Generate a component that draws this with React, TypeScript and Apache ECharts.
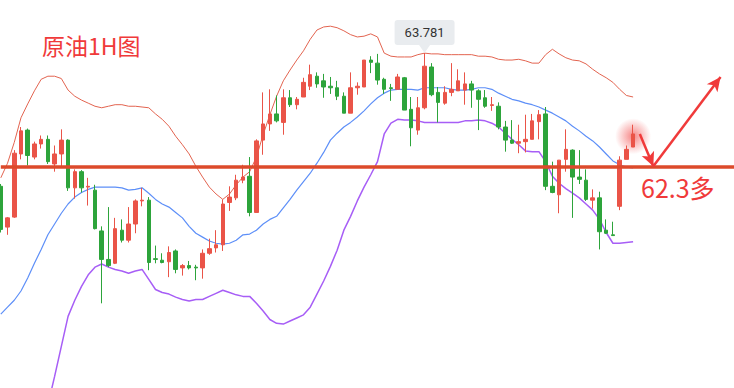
import React, { useEffect, useRef } from 'react';
import * as echarts from 'echarts';

// ---- data ----
const slotCount = 110;
const categories: string[] = Array.from({ length: slotCount }, (_, i) => 'H' + (i + 1));

// [open, close, low, high]
const ohlc: number[][] = [
  [62.05, 61.49, 61.45, 62.08], [61.52, 61.64, 61.42, 61.65], [61.65, 62.48, 61.64, 62.52], [62.47, 62.77, 62.40, 62.82],
  [62.78, 62.45, 62.32, 62.80], [62.43, 62.60, 62.40, 62.63], [62.60, 62.66, 62.54, 62.71], [62.66, 62.37, 62.34, 62.71],
  [62.34, 62.47, 62.24, 62.58], [62.47, 62.65, 62.30, 62.79], [62.65, 62.03, 61.99, 62.66], [62.03, 62.24, 61.89, 62.27],
  [62.24, 62.03, 61.97, 62.26], [62.04, 62.05, 61.80, 62.16], [62.00, 61.50, 61.49, 62.07], [61.47, 61.10, 60.53, 61.53],
  [61.10, 61.02, 61.00, 61.78], [61.05, 61.50, 61.04, 61.64], [61.48, 61.35, 61.32, 61.62], [61.35, 61.56, 61.32, 61.78],
  [61.56, 61.86, 61.44, 61.88], [61.86, 61.87, 61.79, 62.03], [61.87, 61.06, 60.96, 61.91], [61.11, 61.10, 61.05, 61.28],
  [61.09, 61.06, 61.05, 61.18], [61.07, 61.19, 60.87, 61.27], [61.21, 60.97, 60.92, 61.23], [60.99, 61.02, 60.89, 61.04],
  [61.02, 60.99, 60.97, 61.08], [61.00, 60.99, 60.83, 61.03], [60.99, 61.18, 60.85, 61.23], [61.18, 61.24, 61.16, 61.37],
  [61.25, 61.29, 61.19, 61.48], [61.29, 61.82, 61.21, 61.88], [61.84, 61.91, 61.73, 62.05], [61.90, 62.13, 61.87, 62.20],
  [62.13, 62.17, 62.09, 62.33], [62.18, 61.71, 61.66, 62.43], [61.71, 62.64, 61.71, 62.66], [62.65, 62.86, 62.46, 63.27],
  [62.86, 62.99, 62.77, 63.31], [62.99, 62.90, 62.88, 63.23], [62.88, 63.20, 62.72, 63.31], [63.20, 63.11, 63.08, 63.30],
  [63.11, 63.18, 63.05, 63.21], [63.21, 63.40, 63.21, 63.46], [63.35, 63.50, 63.30, 63.63], [63.48, 63.38, 63.33, 63.53],
  [63.42, 63.34, 63.20, 63.51], [63.35, 63.33, 63.25, 63.47], [63.33, 63.22, 63.17, 63.42], [63.22, 63.00, 63.00, 63.27],
  [63.00, 63.33, 63.00, 63.53], [63.33, 63.35, 63.24, 63.40], [63.34, 63.69, 63.34, 63.69], [63.69, 63.66, 63.52, 63.74],
  [63.65, 63.43, 63.37, 63.77], [63.44, 63.31, 63.25, 63.46], [63.33, 63.32, 63.16, 63.38], [63.31, 63.47, 63.31, 63.51],
  [63.46, 63.04, 63.04, 63.47], [63.05, 62.81, 62.57, 63.21], [62.78, 63.07, 62.72, 63.21], [63.07, 63.61, 63.05, 63.781],
  [63.60, 63.24, 63.22, 63.65], [63.27, 63.14, 62.88, 63.34], [63.13, 63.27, 63.11, 63.35], [63.27, 63.31, 63.22, 63.65],
  [63.29, 63.42, 63.29, 63.57], [63.30, 63.38, 63.11, 63.53], [63.38, 63.30, 63.07, 63.42], [63.29, 63.18, 62.78, 63.31],
  [63.20, 63.09, 63.07, 63.30], [63.10, 63.11, 63.03, 63.21], [63.09, 62.82, 62.79, 63.14], [62.82, 62.65, 62.50, 62.90],
  [62.65, 62.61, 62.60, 62.91], [62.61, 62.63, 62.48, 62.85], [62.63, 62.66, 62.49, 62.98], [62.66, 62.90, 62.66, 62.99],
  [62.89, 62.98, 62.66, 63.04], [62.99, 62.05, 62.00, 63.08], [62.05, 61.97, 61.96, 62.37], [61.94, 62.39, 61.70, 62.39],
  [62.40, 62.53, 62.24, 62.79], [62.52, 62.17, 61.64, 62.53], [62.17, 62.14, 62.08, 62.52], [62.13, 61.88, 61.86, 62.27],
  [61.87, 61.90, 61.76, 62.01], [61.90, 61.46, 61.23, 61.98], [61.48, 61.44, 61.43, 61.62], [61.42, 61.41, 61.41, 61.59],
  [61.79, 62.39, 61.74, 62.44], [62.40, 62.53, 62.40, 62.58], [62.56, 62.73, 62.56, 62.85],
];

const bollUpper: number[] = [
  62.16, 62.35, 62.62, 62.94, 63.12, 63.29, 63.44, 63.48, 63.48, 63.45,
  63.30, 63.22, 63.17, 63.13, 63.09, 63.07, 63.09, 63.11, 63.11, 63.09,
  63.09, 63.08, 63.07, 62.99, 62.92, 62.83, 62.70, 62.59, 62.47, 62.31,
  62.17, 62.04, 61.95, 61.88, 61.95, 62.07, 62.17, 62.24, 62.43, 62.72,
  62.98, 63.22, 63.42, 63.56, 63.69, 63.81, 63.96, 64.08, 64.12, 64.13,
  64.11, 64.07, 64.02, 63.99, 64.00, 64.03, 63.99, 63.78, 63.74, 63.73,
  63.73, 63.73, 63.76, 63.78, 63.77, 63.77, 63.76, 63.76, 63.76, 63.76,
  63.76, 63.74, 63.74, 63.73, 63.70, 63.69, 63.69, 63.70, 63.68, 63.65,
  63.65, 63.76, 63.83, 63.77, 63.72, 63.69, 63.68, 63.64, 63.57, 63.51,
  63.46, 63.40, 63.31, 63.23, 63.21,
];

const bollMid: number[] = [
  60.39, 60.48, 60.57, 60.69, 60.86, 61.05, 61.23, 61.42, 61.56, 61.70,
  61.82, 61.91, 61.97, 62.01, 62.04, 62.04, 62.04, 62.04, 62.03, 62.00,
  62.01, 62.03, 61.96, 61.88, 61.82, 61.78, 61.71, 61.64, 61.53, 61.44,
  61.39, 61.34, 61.31, 61.30, 61.31, 61.35, 61.42, 61.43, 61.48, 61.56,
  61.62, 61.66, 61.77, 61.88, 62.00, 62.11, 62.22, 62.35, 62.49, 62.65,
  62.74, 62.82, 62.88, 62.95, 63.03, 63.12, 63.20, 63.26, 63.30, 63.31,
  63.31, 63.31, 63.30, 63.33, 63.33, 63.33, 63.33, 63.31, 63.30, 63.30,
  63.31, 63.33, 63.33, 63.31, 63.26, 63.22, 63.18, 63.16, 63.13, 63.11,
  63.08, 63.04, 63.00, 62.95, 62.90, 62.83, 62.77, 62.70, 62.64, 62.56,
  62.47, 62.38, 62.33, 62.30, 62.29,
];

const bollLower: number[] = [
  58.63, 58.56, 58.52, 58.50, 58.63, 58.82, 59.04, 59.21, 59.58, 59.97,
  60.36, 60.57, 60.75, 60.90, 61.00, 61.04, 61.00, 60.97, 60.95, 60.92,
  60.95, 60.97, 60.84, 60.71, 60.67, 60.65, 60.61, 60.58, 60.56, 60.58,
  60.58, 60.62, 60.66, 60.70, 60.67, 60.64, 60.62, 60.62, 60.53, 60.43,
  60.32, 60.27, 60.26, 60.30, 60.34, 60.38, 60.48, 60.65, 60.82, 61.01,
  61.22, 61.48, 61.66, 61.86, 62.04, 62.20, 62.37, 62.73, 62.87, 62.92,
  62.91, 62.91, 62.90, 62.88, 62.88, 62.88, 62.88, 62.88, 62.88, 62.90,
  62.90, 62.91, 62.90, 62.87, 62.82, 62.74, 62.66, 62.59, 62.51, 62.50,
  62.50, 62.37, 62.18, 62.09, 62.02, 61.96, 61.90, 61.82, 61.74, 61.62,
  61.45, 61.31, 61.31, 61.32, 61.33,
];

const priceMin = 59.43;
const priceMax = 64.47;

const titleText = '原油1H图';
const highIndex = 63;
const highValue = 63.781;
const highLabel = '63.781';
const supportLevel = 62.3;
const supportText = '62.3多';
const glowPoint: [number, number] = [94.2, 62.7];
// arrow route in [slot index, price]
const arrowRoute: [number, number][] = [
  [94.7, 62.73],
  [97.32, 62.31],
  [107.44, 63.47],
];

const RED = '#ea5448';
const GREEN = '#2da43b';
const ANNOT = '#f03a3a';

export default function App() {
  const ref = useRef<HTMLDivElement>(null);

  useEffect(() => {
    if (!ref.current) return;
    const chart = echarts.init(ref.current, null, { renderer: 'svg' });

    const option: any = {
      animation: false,
      backgroundColor: '#ffffff',
      title: {
        text: titleText,
        left: 37,
        top: 28,
        textStyle: {
          color: ANNOT,
          fontSize: 23,
          fontWeight: 'normal',
          fontFamily: 'Noto Sans CJK SC',
        },
      },
      grid: { left: 0.8, top: 0, width: 6.75 * (slotCount - 1), height: 388 },
      xAxis: {
        type: 'category',
        data: categories,
        boundaryGap: false,
        show: false,
      },
      yAxis: {
        type: 'value',
        min: priceMin,
        max: priceMax,
        show: false,
        scale: true,
      },
      series: [
        {
          name: 'upper',
          type: 'line',
          data: bollUpper,
          showSymbol: false,
          silent: true,
          z: 2,
          lineStyle: { color: '#e36450', width: 1 },
        },
        {
          name: 'mid',
          type: 'line',
          data: bollMid,
          showSymbol: false,
          silent: true,
          z: 2,
          lineStyle: { color: '#5d8ff8', width: 1.2 },
        },
        {
          name: 'lower',
          type: 'line',
          data: bollLower,
          showSymbol: false,
          silent: true,
          z: 2,
          lineStyle: { color: '#a75ef6', width: 1.5 },
          markLine: {
            silent: true,
            symbol: 'none',
            label: { show: false },
            lineStyle: { color: '#dc4a2b', width: 3.5, type: 'solid' },
            data: [{ yAxis: supportLevel }],
          },
        },
        {
          id: 'candles',
          name: 'K',
          type: 'candlestick',
          data: ohlc,
          barWidth: 4,
          silent: true,
          z: 3,
          itemStyle: {
            color: RED,
            color0: GREEN,
            borderColor: RED,
            borderColor0: GREEN,
            borderWidth: 1,
          },
          markPoint: {
            silent: true,
            data: [
              {
                coord: [highIndex, highValue],
                symbol: 'path://M0 0L12 0L6 8Z',
                symbolSize: [11, 8],
                symbolOffset: [0, -4],
                itemStyle: { color: '#e9ecef' },
                label: {
                  show: true,
                  position: 'top',
                  distance: 0,
                  formatter: highLabel,
                  backgroundColor: '#e9ecef',
                  padding: [6, 10, 6, 10],
                  borderRadius: 3,
                  color: '#333333',
                  fontSize: 13,
                  fontFamily: 'Roboto',
                },
              },
            ],
          },
        },
      ],
    };

    chart.setOption(option);

    const toPx = (p: [number, number]) =>
      chart.convertToPixel({ xAxisIndex: 0, yAxisIndex: 0 }, p) as number[];
    const px = arrowRoute.map(toPx);
    const g = toPx(glowPoint);

    chart.setOption({
      graphic: [
        {
          type: 'circle',
          z: 1,
          silent: true,
          shape: { cx: g[0], cy: g[1], r: 18 },
          style: {
            fill: new echarts.graphic.RadialGradient(0.5, 0.5, 0.5, [
              { offset: 0, color: 'rgba(240,50,50,0.6)' },
              { offset: 0.45, color: 'rgba(240,50,50,0.32)' },
              { offset: 1, color: 'rgba(240,50,50,0)' },
            ]),
          },
        },
        {
          type: 'text',
          left: 641,
          top: 174,
          z: 10,
          style: {
            text: supportText,
            fill: ANNOT,
            fontSize: 25,
            fontFamily: 'Noto Sans CJK SC',
          },
        },
      ],
      series: [
        {
          id: 'candles',
          markLine: {
            silent: true,
            symbol: ['none', 'arrow'],
            symbolSize: [10, 14],
            label: { show: false },
            lineStyle: { color: ANNOT, width: 2.5, type: 'solid' },
            data: [
              [{ x: px[0][0], y: px[0][1] }, { x: px[1][0], y: px[1][1] }],
              [{ x: px[1][0], y: px[1][1] }, { x: px[2][0], y: px[2][1] }],
            ],
          },
        },
      ],
    });

    return () => chart.dispose();
  }, []);

  return (
    <div
      ref={ref}
      style={{ position: 'fixed', left: 0, top: 0, width: 734, height: 388, background: '#fff' }}
    />
  );
}
